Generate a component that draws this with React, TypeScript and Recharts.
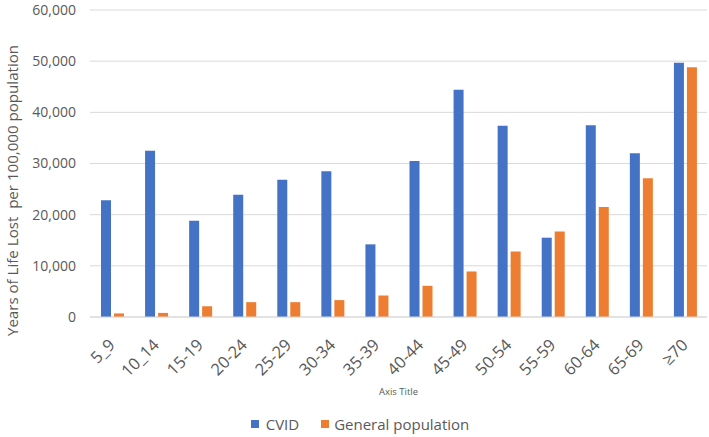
import React from 'react';
import { BarChart, Bar, XAxis, YAxis, CartesianGrid, Legend, Label } from 'recharts';

const ageGroups = ['5_9', '10_14', '15-19', '20-24', '25-29', '30-34', '35-39', '40-44', '45-49', '50-54', '55-59', '60-64', '65-69', '≥70'];
const cvidValues = [22800, 32500, 18800, 23900, 26800, 28500, 14200, 30500, 44400, 37400, 15500, 37500, 32000, 49700];
const generalValues = [700, 800, 2100, 2900, 2900, 3300, 4200, 6100, 8900, 12800, 16700, 21500, 27100, 48800];
const yTicks = [0, 10000, 20000, 30000, 40000, 50000, 60000];

const BLUE = '#4472C4';
const ORANGE = '#ED7D31';
const TEXT = '#595959';
const FONT = '"Open Sans", "Noto Sans", sans-serif';

if (typeof document !== 'undefined') {
  document.body.style.margin = '0';
}

const chartData = ageGroups.map((age, i) => ({
  age,
  cvid: cvidValues[i],
  general: generalValues[i],
}));

// rotated category labels, end of text sits just right of the tick
const XTick = ({ x, y, payload }: any) => (
  <g transform={`translate(${x + 4},${y + 29})`}>
    <text textAnchor="end" transform="rotate(-45)" fill={TEXT} fontSize={16.5} fontFamily={FONT}>
      {payload.value}
    </text>
  </g>
);

const YTick = ({ x, y, payload }: any) => (
  <text x={x - 14} y={y} dy="0.35em" textAnchor="end" fill={TEXT} fontSize={14} fontFamily={FONT}>
    {Number(payload.value).toLocaleString('en-US')}
  </text>
);

const LegendBox = () => (
  <div
    style={{
      display: 'flex',
      justifyContent: 'center',
      alignItems: 'center',
      height: 26,
      paddingLeft: 13,
      fontFamily: FONT,
      fontSize: 15,
      color: TEXT,
    }}
  >
    <span style={{ width: 8, height: 8, background: BLUE, marginRight: 7 }} />
    <span style={{ marginRight: 22 }}>CVID</span>
    <span style={{ width: 8, height: 8, background: ORANGE, marginRight: 5 }} />
    <span>General population</span>
  </div>
);

const App = () => {
  return (
    <div style={{ width: 709, height: 437, background: '#fff' }}>
      <BarChart
        width={709}
        height={437}
        data={chartData}
        margin={{ top: 10, right: 2, left: 0, bottom: 0 }}
        barSize={10}
        barGap={3}
      >
        <CartesianGrid vertical={false} stroke="#D9D9D9" />
        <XAxis
          dataKey="age"
          height={94}
          interval={0}
          tickLine={false}
          tickSize={0}
          tickMargin={0}
          axisLine={{ stroke: '#D9D9D9' }}
          tick={<XTick />}
        >
          <Label
            content={({ viewBox }: any) => (
              <text
                x={viewBox.x + viewBox.width / 2}
                y={viewBox.y + 75}
                dy="0.35em"
                textAnchor="middle"
                fill={TEXT}
                fontSize={9.5}
                fontFamily={FONT}
              >
                Axis Title
              </text>
            )}
          />
        </XAxis>
        <YAxis
          width={90}
          domain={[0, 60000]}
          ticks={yTicks}
          tickLine={false}
          tickSize={0}
          tickMargin={0}
          axisLine={false}
          tick={<YTick />}
        >
          <Label
            content={({ viewBox }: any) => {
              const cx = 13;
              const cy = viewBox.y + viewBox.height / 2 + 27;
              return (
                <text
                  x={cx}
                  y={cy}
                  dy="0.35em"
                  textAnchor="middle"
                  transform={`rotate(-90, ${cx}, ${cy})`}
                  fill={TEXT}
                  fontSize={15.1}
                  fontFamily={FONT}
                  style={{ whiteSpace: 'pre' }}
                >
                  {'Years of Life Lost  per 100,000 population'}
                </text>
              );
            }}
          />
        </YAxis>
        <Legend verticalAlign="bottom" height={26} content={<LegendBox />} />
        <Bar dataKey="cvid" name="CVID" fill={BLUE} isAnimationActive={false} />
        <Bar dataKey="general" name="General population" fill={ORANGE} isAnimationActive={false} />
      </BarChart>
    </div>
  );
};

export default App;
